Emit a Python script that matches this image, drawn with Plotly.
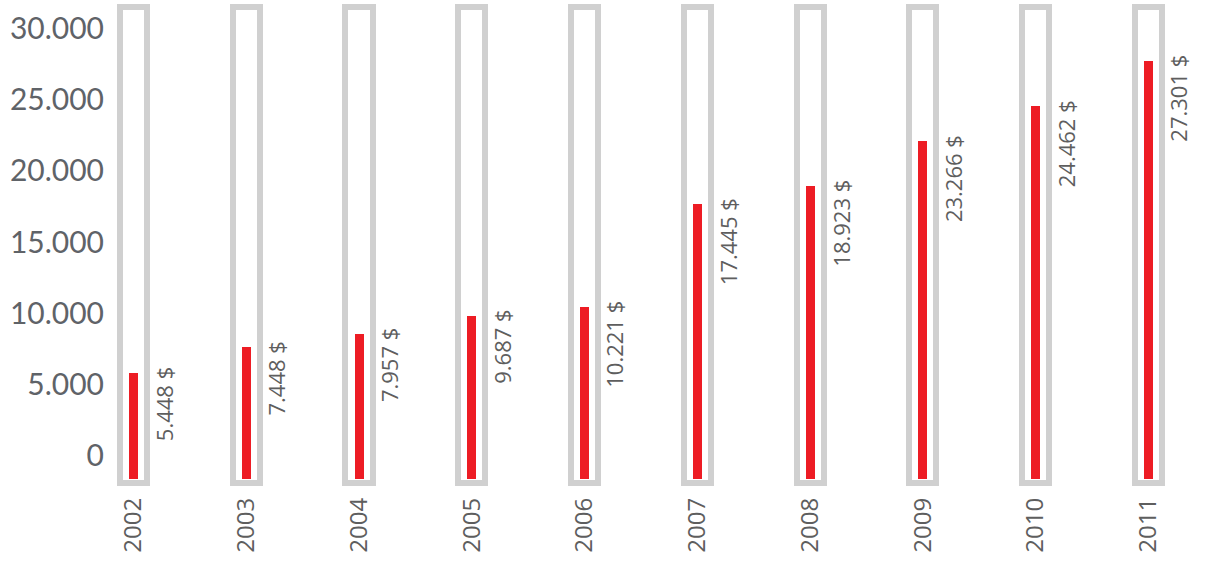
import plotly.graph_objects as go

# ---- data ----
years = ["2002", "2003", "2004", "2005", "2006", "2007", "2008", "2009", "2010", "2011"]
# bar heights as drawn in the picture
bar_values = [5420, 7200, 8130, 9400, 10050, 17230, 18510, 21690, 24120, 27300]
# data labels as printed in the picture
labels = ["5.448 $", "7.448 $", "7.957 $", "9.687 $", "10.221 $",
          "17.445 $", "18.923 $", "23.266 $", "24.462 $", "27.301 $"]
y_ticks = [0, 5000, 10000, 15000, 20000, 25000, 30000]

# ---- style constants ----
Y_LO, Y_HI = -2525, 31276
FRAME_BOTTOM, FRAME_TOP = -2314, 31066
RED_BASE = -2034
FRAME_COLOR = "#d0d0d0"
RED = "#ed1c24"
TEXT_COLOR = "#5e5e5e"

xs = list(range(len(years)))

fig = go.Figure()
fig.add_trace(go.Bar(
    x=xs, y=[FRAME_TOP - FRAME_BOTTOM] * len(xs), base=FRAME_BOTTOM,
    width=0.24, marker=dict(color="rgba(255,255,255,0)", line=dict(color=FRAME_COLOR, width=6)),
    hoverinfo="skip", showlegend=False,
))
fig.add_trace(go.Bar(
    x=xs, y=[v - RED_BASE for v in bar_values], base=RED_BASE,
    width=0.08, marker=dict(color=RED, line=dict(width=0)),
    customdata=labels, hovertemplate="%{customdata}<extra></extra>", showlegend=False,
))

for i, (v, t) in enumerate(zip(bar_values, labels)):
    fig.add_annotation(
        x=i, y=v, text=t, textangle=-90, showarrow=False,
        xanchor="center", yanchor="top", xshift=30, yshift=8,
        font=dict(family="Open Sans", size=22, color=TEXT_COLOR),
    )

fig.update_layout(
    width=1207, height=565,
    margin=dict(l=110, r=0, t=4, b=79, autoexpand=False),
    paper_bgcolor="white", plot_bgcolor="white",
    barmode="overlay", bargap=0,
    separators=",.",
    xaxis=dict(
        range=[-0.208, 9.519], tickmode="array", tickvals=xs, ticktext=years,
        tickangle=-90, showgrid=False, zeroline=False, showline=False,
        ticks="", ticklabelstandoff=6, automargin=False,
        tickfont=dict(family="Open Sans", size=24, color=TEXT_COLOR),
        fixedrange=True,
    ),
    yaxis=dict(
        range=[Y_LO, Y_HI], tickmode="array", tickvals=y_ticks,
        ticktext=[f"{v:,}".replace(",", ".") for v in y_ticks],
        showgrid=False, zeroline=False, showline=False, ticks="",
        ticklabelshift=6, ticklabelstandoff=5, automargin=False,
        tickfont=dict(family="Lato", size=30, color="#5f6368"),
        fixedrange=True,
    ),
)

fig.write_html("out.html", config={"displayModeBar": False},
               post_script="document.body.style.margin='0';")
